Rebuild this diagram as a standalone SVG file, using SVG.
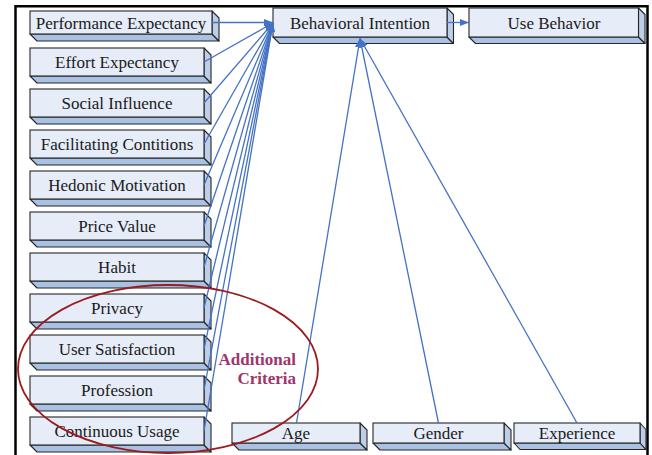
<svg xmlns="http://www.w3.org/2000/svg" width="652" height="455" viewBox="0 0 652 455">
<style>
.front{fill:#E6EDF8;stroke:#262626;stroke-width:1.1}
.side{fill:#BDCEE8;stroke:#262626;stroke-width:1.1;stroke-linejoin:round}
.bot{fill:#A9C1E3;stroke:#262626;stroke-width:1.1;stroke-linejoin:round}
.lbl{font-family:"Liberation Serif","Times New Roman",serif;font-size:17px;fill:#1a1a1a;text-anchor:middle}
.con{stroke:#4472C4;stroke-width:1.3;fill:none;marker-end:url(#ah)}
.crit{font-family:"Liberation Serif","Times New Roman",serif;font-size:17px;font-weight:bold;fill:#A0356B;text-anchor:end}
</style>
<defs>
<marker id="ah" markerUnits="userSpaceOnUse" markerWidth="9" markerHeight="7" refX="9" refY="3.5" orient="auto">
<path d="M0,0 L9,3.5 L0,7 z" fill="#4472C4"/>
</marker>
</defs>
<rect x="0" y="0" width="652" height="455" fill="#fff"/>
<path d="M15.5,458 V6.2 H647.5 V458" fill="none" stroke="#000" stroke-width="2.5"/>

<g id="pe">
<path class="bot" d="M30,34 L37,41 H219 L212,34 Z"/><path class="side" d="M212,11 L219,18 V41 L212,34 Z"/>
<rect class="front" x="30" y="11" width="182" height="23"/><text class="lbl" x="121" y="28.5">Performance Expectancy</text></g>
<g id="ee">
<path class="bot" d="M30,76 L37,83 H211 L204,76 Z"/><path class="side" d="M204,48 L211,55 V83 L204,76 Z"/>
<rect class="front" x="30" y="48" width="174" height="28"/><text class="lbl" x="117" y="68">Effort Expectancy</text></g>
<g id="si">
<path class="bot" d="M30,117 L37,124 H211 L204,117 Z"/><path class="side" d="M204,89 L211,96 V124 L204,117 Z"/>
<rect class="front" x="30" y="89" width="174" height="28"/><text class="lbl" x="117" y="109">Social Influence</text></g>
<g id="fc">
<path class="bot" d="M30,158 L37,165 H211 L204,158 Z"/><path class="side" d="M204,130 L211,137 V165 L204,158 Z"/>
<rect class="front" x="30" y="130" width="174" height="28"/><text class="lbl" x="117" y="150">Facilitating Contitions</text></g>
<g id="hm">
<path class="bot" d="M30,199 L37,206 H211 L204,199 Z"/><path class="side" d="M204,171 L211,178 V206 L204,199 Z"/>
<rect class="front" x="30" y="171" width="174" height="28"/><text class="lbl" x="117" y="191">Hedonic Motivation</text></g>
<g id="pv">
<path class="bot" d="M30,240 L37,247 H211 L204,240 Z"/><path class="side" d="M204,212 L211,219 V247 L204,240 Z"/>
<rect class="front" x="30" y="212" width="174" height="28"/><text class="lbl" x="117" y="232">Price Value</text></g>
<g id="habit">
<path class="bot" d="M30,281 L37,288 H211 L204,281 Z"/><path class="side" d="M204,253 L211,260 V288 L204,281 Z"/>
<rect class="front" x="30" y="253" width="174" height="28"/><text class="lbl" x="117" y="273">Habit</text></g>
<g id="privacy">
<path class="bot" d="M30,322 L37,329 H211 L204,322 Z"/><path class="side" d="M204,294 L211,301 V329 L204,322 Z"/>
<rect class="front" x="30" y="294" width="174" height="28"/><text class="lbl" x="117" y="314">Privacy</text></g>
<g id="us">
<path class="bot" d="M30,363 L37,370 H211 L204,363 Z"/><path class="side" d="M204,335 L211,342 V370 L204,363 Z"/>
<rect class="front" x="30" y="335" width="174" height="28"/><text class="lbl" x="117" y="355">User Satisfaction</text></g>
<g id="profession">
<path class="bot" d="M30,404 L37,411 H211 L204,404 Z"/><path class="side" d="M204,376 L211,383 V411 L204,404 Z"/>
<rect class="front" x="30" y="376" width="174" height="28"/><text class="lbl" x="117" y="396">Profession</text></g>
<g id="cu">
<path class="bot" d="M30,445 L37,452 H211 L204,445 Z"/><path class="side" d="M204,417 L211,424 V452 L204,445 Z"/>
<rect class="front" x="30" y="417" width="174" height="28"/><text class="lbl" x="117" y="437">Continuous Usage</text></g>

<g id="bi">
<path class="bot" d="M273,37 L279.5,43.5 H453.5 L447,37 Z"/><path class="side" d="M447,8 L453.5,14.5 V43.5 L447,37 Z"/>
<rect class="front" x="273" y="8" width="174" height="29"/><text class="lbl" x="360" y="28.5">Behavioral Intention</text></g>
<g id="ub">
<path class="bot" d="M469,37 L475.5,43.5 H645 L638.5,37 Z"/><path class="side" d="M638.5,8 L645,14.5 V43.5 L638.5,37 Z"/>
<rect class="front" x="469" y="8" width="169.5" height="29"/><text class="lbl" x="554" y="28.5">Use Behavior</text></g>

<g id="age">
<path class="bot" d="M232,443 L239,450 H367 L360,443 Z"/><path class="side" d="M360,423 L367,430 V450 L360,443 Z"/>
<rect class="front" x="232" y="423" width="128" height="20"/><text class="lbl" x="296" y="439">Age</text></g>
<g id="gender">
<path class="bot" d="M373,443 L380,450 H511 L504,443 Z"/><path class="side" d="M504,423 L511,430 V450 L504,443 Z"/>
<rect class="front" x="373" y="423" width="131" height="20"/><text class="lbl" x="438.5" y="439">Gender</text></g>
<g id="experience">
<path class="bot" d="M514,443 L520,449.5 H646 L640,443 Z"/><path class="side" d="M640,423 L646,429.5 V449.5 L640,443 Z"/>
<rect class="front" x="514" y="423" width="126" height="20"/><text class="lbl" x="577" y="439">Experience</text></g>

<g id="connectors">
<line class="con" x1="212" y1="22.5" x2="273" y2="22.5"/>
<line class="con" x1="204" y1="62" x2="273" y2="23"/>
<line class="con" x1="204" y1="103" x2="273" y2="23"/>
<line class="con" x1="204" y1="144" x2="273" y2="23"/>
<line class="con" x1="204" y1="185" x2="273" y2="23"/>
<line class="con" x1="204" y1="226" x2="273" y2="23"/>
<line class="con" x1="204" y1="267" x2="273" y2="23"/>
<line class="con" x1="204" y1="308" x2="273" y2="23"/>
<line class="con" x1="204" y1="349" x2="273" y2="23"/>
<line class="con" x1="204" y1="390" x2="273" y2="23"/>
<line class="con" x1="204" y1="431" x2="273" y2="23"/>
<line class="con" x1="447" y1="22.5" x2="469" y2="22.5"/>
<line class="con" x1="296.5" y1="423" x2="360" y2="38.5"/>
<line class="con" x1="438.5" y1="423" x2="360" y2="38.5"/>
<line class="con" x1="577" y1="423" x2="360" y2="38.5"/>
</g>

<ellipse cx="168" cy="369" rx="150" ry="84" fill="none" stroke="#9B1B1F" stroke-width="1.8"/>
<text class="crit" x="296" y="365">Additional</text>
<text class="crit" x="296" y="384">Criteria</text>
</svg>
